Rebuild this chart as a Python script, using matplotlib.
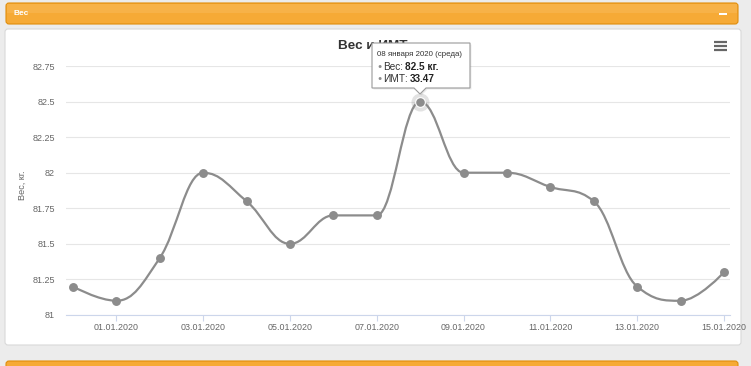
import matplotlib
matplotlib.use('Agg')
import matplotlib.pyplot as plt
import matplotlib.dates as mdates
from matplotlib.path import Path
from matplotlib.patches import PathPatch, FancyBboxPatch, Polygon, Rectangle
from datetime import datetime

plt.rcParams['font.family'] = ['Liberation Sans', 'DejaVu Sans']

# data
dates = ['31.12.2019', '01.01.2020', '02.01.2020', '03.01.2020', '04.01.2020',
         '05.01.2020', '06.01.2020', '07.01.2020', '08.01.2020', '09.01.2020',
         '10.01.2020', '11.01.2020', '12.01.2020', '13.01.2020', '14.01.2020',
         '15.01.2020']
weights = [81.2, 81.1, 81.4, 82.0, 81.8, 81.5, 81.7, 81.7, 82.5, 82.0,
           82.0, 81.9, 81.8, 81.2, 81.1, 81.3]
y_ticks = [81, 81.25, 81.5, 81.75, 82, 82.25, 82.5, 82.75]
y_tick_labels = ['81', '81.25', '81.5', '81.75', '82', '82.25', '82.5', '82.75']
hover_idx = 8
tooltip_date = '08 января 2020 (среда)'
tooltip_weight = '82.5 кг.'
tooltip_bmi = '33.47'

W, H = 751, 366
x = [mdates.date2num(datetime.strptime(d, '%d.%m.%Y')) for d in dates]


def spline_path(xs, ys, smoothing=1.5):
    # highcharts-like spline
    n = len(xs)
    denom = smoothing + 1
    lc = [None] * n
    rc = [None] * n
    for i in range(1, n - 1):
        px, py = xs[i], ys[i]
        lx, ly = xs[i - 1], ys[i - 1]
        nx, ny = xs[i + 1], ys[i + 1]
        lcx = (smoothing * px + lx) / denom
        lcy = (smoothing * py + ly) / denom
        rcx = (smoothing * px + nx) / denom
        rcy = (smoothing * py + ny) / denom
        if rcx != lcx:
            corr = (rcy - lcy) * (rcx - px) / (rcx - lcx) + py - rcy
            lcy += corr
            rcy += corr
        if lcy > ly and lcy > py:
            lcy = max(ly, py)
            rcy = 2 * py - lcy
        elif lcy < ly and lcy < py:
            lcy = min(ly, py)
            rcy = 2 * py - lcy
        if rcy > ny and rcy > py:
            rcy = max(ny, py)
            lcy = 2 * py - rcy
        elif rcy < ny and rcy < py:
            rcy = min(ny, py)
            lcy = 2 * py - rcy
        lc[i] = (lcx, lcy)
        rc[i] = (rcx, rcy)
    verts = [(xs[0], ys[0])]
    codes = [Path.MOVETO]
    for i in range(1, n):
        c1 = rc[i - 1] if rc[i - 1] else (xs[i - 1], ys[i - 1])
        c2 = lc[i] if lc[i] else (xs[i], ys[i])
        verts += [c1, c2, (xs[i], ys[i])]
        codes += [Path.CURVE4] * 3
    return Path(verts, codes)


fig = plt.figure(figsize=(W / 100, H / 100), dpi=100)
fig.patch.set_facecolor('#ececec')

# background layer in pixel coords
bg = fig.add_axes([0, 0, 1, 1], zorder=0)
bg.set_xlim(0, W)
bg.set_ylim(H, 0)
bg.axis('off')

bg.add_patch(FancyBboxPatch((6, 3), 732, 21, boxstyle='round,pad=0,rounding_size=3',
                            facecolor='#f6aa36', edgecolor='#e08d0c', lw=0.8))
bg.add_patch(Rectangle((7, 4), 730, 9, facecolor='#f9b955', edgecolor='none', alpha=0.6))
bg.text(13, 13.5, 'Вес', color='white', fontsize=6, fontweight='bold', va='center', ha='left')
bg.add_patch(Rectangle((719, 12.5), 8, 2.2, facecolor='white', edgecolor='none'))

bg.add_patch(FancyBboxPatch((5, 29), 736, 316, boxstyle='round,pad=0,rounding_size=3',
                            facecolor='white', edgecolor='#d9d9d9', lw=0.8))
bg.add_patch(FancyBboxPatch((6, 361), 732, 12, boxstyle='round,pad=0,rounding_size=3',
                            facecolor='#f6aa36', edgecolor='#e08d0c', lw=0.8))

bg.text(373, 46, 'Вес и ИМТ', color='#333333', fontsize=9.7, fontweight='bold',
        ha='center', va='center')
for yy in (42, 46, 50):
    bg.plot([714, 727], [yy, yy], color='#666666', lw=1.6, solid_capstyle='butt')

bg.text(22, 185, 'Вес, кг.', color='#666666', fontsize=6.6, rotation=90,
        ha='center', va='center')

# chart
left, right, top, bottom = 66, 730, 66, 315
ax = fig.add_axes([left / W, 1 - bottom / H, (right - left) / W, (bottom - top) / H], zorder=1)
ax.set_facecolor('none')
ax.set_xlim(x[0] - 0.16, x[-1] + 0.14)
ax.set_ylim(81, 82.75)
ax.set_yticks(y_ticks)
ax.set_yticklabels(y_tick_labels)
ax.set_xticks(x[1::2])
ax.set_xticklabels(dates[1::2])
ax.grid(axis='y', color='#e6e6e6', lw=0.8)
ax.set_axisbelow(True)
for s in ('top', 'right', 'left'):
    ax.spines[s].set_visible(False)
ax.spines['bottom'].set_color('#ccd6eb')
ax.spines['bottom'].set_linewidth(0.8)
ax.tick_params(axis='y', length=0, colors='#666666', labelsize=6.5, pad=8)
ax.tick_params(axis='x', length=4, width=0.8, color='#ccd6eb', labelcolor='#666666',
               labelsize=6.4, pad=1.5)

ax.add_patch(PathPatch(spline_path(x, weights), facecolor='none', edgecolor='#8c8c8c',
                       lw=1.6, clip_on=False))
ax.plot(x, weights, 'o', color='#8c8c8c', ms=5.4, clip_on=False, zorder=3)
ax.plot([x[hover_idx]], [weights[hover_idx]], 'o', color='#8c8c8c', ms=13,
        alpha=0.25, mew=0, clip_on=False, zorder=3)
ax.plot([x[hover_idx]], [weights[hover_idx]], 'o', color='#8c8c8c', ms=7,
        mec='white', mew=0.8, clip_on=False, zorder=4)

# tooltip overlay
ov = fig.add_axes([0, 0, 1, 1], zorder=2)
ov.set_xlim(0, W)
ov.set_ylim(H, 0)
ov.axis('off')
tip = [(372, 43), (470, 43), (470, 88), (426, 88), (420, 94), (414, 88), (372, 88)]
ov.add_patch(Polygon([(a + 1.5, b + 1.5) for a, b in tip], closed=True,
                     facecolor='black', alpha=0.08, edgecolor='none'))
ov.add_patch(Polygon(tip, closed=True, facecolor='white', edgecolor='#9a9a9a', lw=0.8))
ov.text(377, 55, tooltip_date, fontsize=5.7, color='#333333', va='center')

fig.canvas.draw()
renderer = fig.canvas.get_renderer()


def text_row(y, label, value):
    ov.text(377, y, '●', fontsize=5, color='#8c8c8c', va='center')
    t = ov.text(383, y, label, fontsize=7.2, color='#333333', va='center')
    bb = t.get_window_extent(renderer)
    x_end = ov.transData.inverted().transform((bb.x1, bb.y0))[0]
    ov.text(x_end + 2, y, value, fontsize=7.2, color='#222222', fontweight='bold', va='center')


text_row(67, 'Вес:', tooltip_weight)
text_row(79, 'ИМТ:', tooltip_bmi)

fig.savefig('out.png', dpi=100, facecolor=fig.get_facecolor())
